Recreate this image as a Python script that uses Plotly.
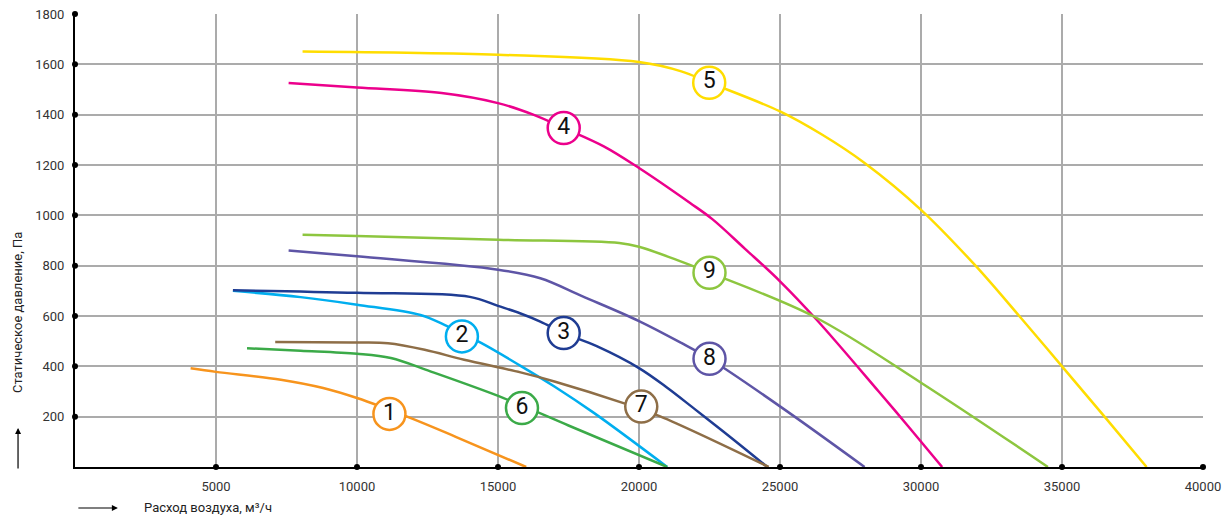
import plotly.graph_objects as go

# fan curves: air flow (m3/h) vs static pressure (Pa)
x1 = [4100, 5000, 7300, 8800, 10000, 11800, 13500, 16000]
y1 = [392, 378, 347, 314, 274, 199, 120, 0]

x2 = [5600, 8000, 10000, 12250, 13100, 14400, 15800, 17000, 18400, 21000]
y2 = [700, 675, 645, 604, 565, 493, 402, 320, 215, 0]

x3 = [5600, 10000, 14000, 15000, 15800, 16500, 17330, 18500, 20000, 21000, 22000, 23000, 24550]
y3 = [702, 692, 676, 640, 610, 578, 532, 480, 393, 315, 228, 140, 0]

x4 = [7575, 10000, 13000, 15000, 16250, 17330, 18750, 20000, 21800, 22600, 23750, 25000, 26300, 28500, 29500, 30750]
y4 = [1526, 1508, 1486, 1446, 1400, 1347, 1274, 1188, 1050, 985, 868, 738, 585, 300, 168, 0]

x5 = [8070, 15000, 20000, 21500, 22500, 25000, 26500, 28000, 30000, 31900, 33500, 35000, 36500, 38000]
y5 = [1651, 1638, 1609, 1572, 1527, 1413, 1320, 1208, 1022, 804, 598, 400, 201, 0]

x6 = [6100, 8000, 10000, 11200, 12600, 15200, 17500, 21000]
y6 = [472, 462, 450, 433, 380, 274, 165, 0]

x7 = [7100, 10000, 11100, 12400, 13800, 15800, 17000, 19450, 20750, 24600]
y7 = [497, 495, 492, 466, 426, 376, 340, 254, 201, 0]

x8 = [7575, 10000, 15000, 16500, 18000, 20000, 21500, 22500, 25000, 28000]
y8 = [860, 837, 784, 750, 678, 580, 493, 430, 241, 0]

x9 = [8070, 10000, 15000, 19300, 20000, 21500, 22500, 26200, 30000, 34500]
y9 = [923, 918, 903, 890, 875, 816, 772, 598, 335, 0]

curve_x = [x1, x2, x3, x4, x5, x6, x7, x8, x9]
curve_y = [y1, y2, y3, y4, y5, y6, y7, y8, y9]
curve_names = ["1", "2", "3", "4", "5", "6", "7", "8", "9"]
colors = ["#F7941D", "#00AEEF", "#1F3C93", "#EC008C", "#FFDD00",
          "#3BAA48", "#8E6E47", "#5E55A6", "#8DC63F"]

# number badges placed on each curve
label_x = [11150, 13720, 17330, 17330, 22490, 15850, 20080, 22500, 22500]
label_y = [211, 519, 532, 1347, 1527, 234, 240, 430, 772]

x_ticks = [5000, 10000, 15000, 20000, 25000, 30000, 35000, 40000]
y_ticks = [200, 400, 600, 800, 1000, 1200, 1400, 1600, 1800]

fig = go.Figure()

for xs, ys, name, c in zip(curve_x, curve_y, curve_names, colors):
    fig.add_trace(go.Scatter(x=xs, y=ys, mode="lines", name=name,
                             line=dict(color=c, width=2.5, shape="spline", smoothing=1.0),
                             hoverinfo="skip"))

# little black dots where the ticks sit on the axes
fig.add_trace(go.Scatter(x=x_ticks, y=[0] * len(x_ticks), mode="markers",
                         marker=dict(color="black", size=6), cliponaxis=False, hoverinfo="skip"))
fig.add_trace(go.Scatter(x=[0] * len(y_ticks), y=y_ticks, mode="markers",
                         marker=dict(color="black", size=6), cliponaxis=False, hoverinfo="skip"))

fig.add_trace(go.Scatter(
    x=label_x, y=label_y, mode="markers+text", text=curve_names,
    textposition="middle center",
    textfont=dict(family="Liberation Sans Narrow, Roboto, sans-serif", size=23, color="#111"),
    marker=dict(size=32, color="white", line=dict(color=colors, width=2.5)),
    cliponaxis=False, hoverinfo="skip"))

tick_font = dict(family="Roboto, sans-serif", size=13, color="#333")

fig.update_layout(
    width=1228, height=517,
    margin=dict(l=75, r=25, t=14, b=50),
    plot_bgcolor="white", paper_bgcolor="white",
    showlegend=False,
    xaxis=dict(range=[0, 40000], tickmode="array", tickvals=x_ticks,
               ticktext=[str(v) for v in x_ticks], automargin=False,
               showgrid=True, gridcolor="#ABABAB", gridwidth=1.5,
               showline=True, linecolor="black", linewidth=2,
               zeroline=False, ticks="", tickfont=tick_font, ticklabelstandoff=6),
    yaxis=dict(range=[0, 1800], tickmode="array", tickvals=y_ticks,
               ticktext=[str(v) for v in y_ticks], automargin=False,
               showgrid=True, gridcolor="#ABABAB", gridwidth=1.5,
               showline=True, linecolor="black", linewidth=2,
               zeroline=False, ticks="", tickfont=tick_font, ticklabelstandoff=6),
)

title_font = dict(family="Roboto, sans-serif", size=13, color="#222")

fig.add_annotation(text="Статическое давление, Па", xref="paper", yref="paper",
                   x=-0.0505, y=0.34, textangle=-90, showarrow=False,
                   xanchor="center", yanchor="middle", font=title_font)
fig.add_annotation(text="Расход воздуха, м³/ч", xref="paper", yref="paper",
                   x=0.059, y=-0.0905, showarrow=False,
                   xanchor="left", yanchor="middle", font=title_font)
# arrows next to the axis titles
fig.add_annotation(text="", xref="paper", yref="paper", x=-0.0505, y=0.086,
                   showarrow=True, ax=0, ay=42, arrowhead=2, arrowsize=1,
                   arrowwidth=1.2, arrowcolor="black")
fig.add_annotation(text="", xref="paper", yref="paper", x=0.038, y=-0.0905,
                   showarrow=True, ax=-41, ay=0, arrowhead=2, arrowsize=1,
                   arrowwidth=1.2, arrowcolor="black")

# drop the browser's default body margin so the figure fills the window
fig.write_html("out.html", config={"displayModeBar": False},
               post_script="document.body.style.margin='0';document.body.style.overflow='hidden';")
